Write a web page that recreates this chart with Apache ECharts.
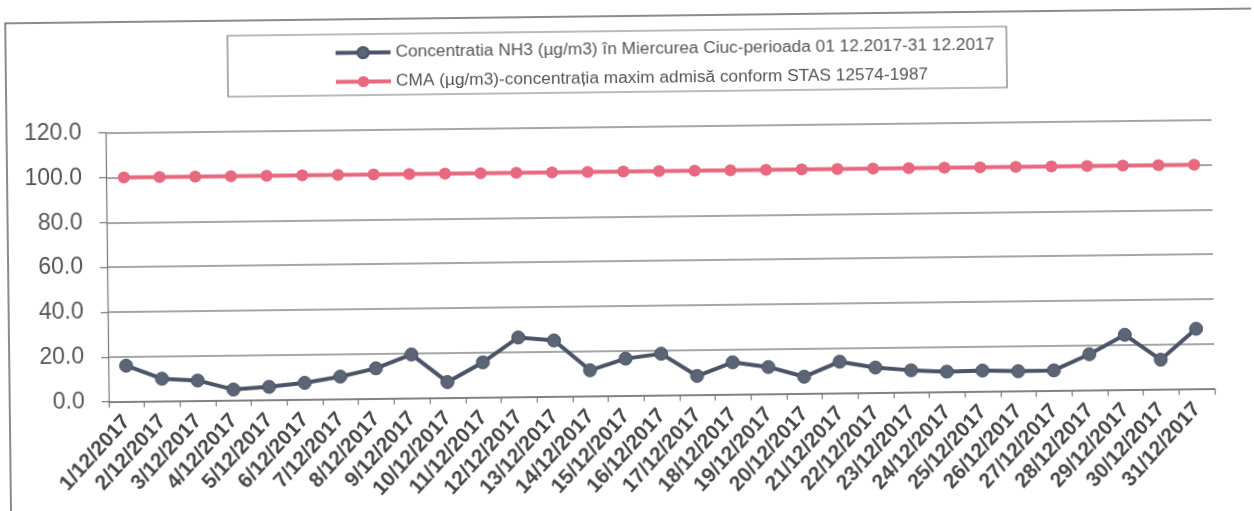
<!DOCTYPE html>
<html>
<head>
<meta charset="utf-8">
<script src="https://cdn.jsdelivr.net/npm/echarts@6/dist/echarts.min.js"></script>
<style>
html,body{margin:0;padding:0;background:#fff;overflow:hidden;}
#chart{width:1254px;height:511px;transform:rotate(-0.68deg);transform-origin:627px 255px;}
</style>
</head>
<body>
<div id="chart"></div>
<script>
const categories = ["1/12/2017","2/12/2017","3/12/2017","4/12/2017","5/12/2017","6/12/2017","7/12/2017","8/12/2017","9/12/2017","10/12/2017","11/12/2017","12/12/2017","13/12/2017","14/12/2017","15/12/2017","16/12/2017","17/12/2017","18/12/2017","19/12/2017","20/12/2017","21/12/2017","22/12/2017","23/12/2017","24/12/2017","25/12/2017","26/12/2017","27/12/2017","28/12/2017","29/12/2017","30/12/2017","31/12/2017"];
const nh3Values = [16.0,10.0,9.0,4.8,5.8,7.4,10.0,13.5,19.5,7.0,15.6,26.5,25.0,11.5,16.5,18.5,8.4,14.3,12.0,7.5,14.0,11.2,9.8,9.0,9.3,8.8,9.0,16.0,24.5,13.2,26.8];
const cmaValues = [100,100,100,100,100,100,100,100,100,100,100,100,100,100,100,100,100,100,100,100,100,100,100,100,100,100,100,100,100,100,100];
const nh3Name = "Concentratia NH3 (µg/m3) în Miercurea Ciuc-perioada 01 12.2017-31 12.2017";
const cmaName = "CMA (µg/m3)-concentrația maxim admisă conform STAS 12574-1987";
const yTicks = {min:0, max:120, interval:20};

const chart = echarts.init(document.getElementById('chart'), null, {renderer:'canvas'});
chart.setOption({
  backgroundColor:'#fff',
  animation:false,
  graphic:[
    {type:'rect', shape:{x:8,y:16,width:1270,height:496}, style:{fill:'none',stroke:'#666',lineWidth:1.5}, silent:true},
    {type:'rect', shape:{x:230,y:31,width:779,height:61}, style:{fill:'none',stroke:'#777',lineWidth:1.2}, silent:true}
  ],
  legend:{
    orient:'vertical', left:331, top:35,
    itemWidth:55, itemHeight:14, itemGap:10,
    lineStyle:{width:4},
    textStyle:{fontFamily:'Liberation Sans, Arial, sans-serif', fontSize:17.3, color:'#555', lineHeight:19},
    data:[nh3Name, cmaName]
  },
  grid:{left:107, right:41, top:126.6, bottom:115.4, containLabel:false},
  xAxis:{
    type:'category', data:categories, boundaryGap:true,
    axisLine:{lineStyle:{color:'#777', width:1.5}},
    axisTick:{show:true, length:6, inside:false, alignWithLabel:false, lineStyle:{color:'#777', width:1.2}},
    axisLabel:{interval:0, rotate:47, fontFamily:'Liberation Sans, Arial, sans-serif', fontSize:21, fontWeight:'bold', color:'#484848', margin:17}
  },
  yAxis:{
    type:'value', min:yTicks.min, max:yTicks.max, interval:yTicks.interval,
    axisLine:{show:true, lineStyle:{color:'#777', width:1.2}},
    axisTick:{show:true, length:7, lineStyle:{color:'#777', width:1.2}},
    splitLine:{lineStyle:{color:'#888', width:1.5}},
    axisLabel:{fontFamily:'Liberation Sans, Arial, sans-serif', fontSize:23, color:'#555', margin:24, formatter:v=>v.toFixed(1)}
  },
  series:[
    {name:nh3Name, type:'line', data:nh3Values, symbol:'circle', symbolSize:13,
     lineStyle:{color:'#4a5466', width:4}, itemStyle:{color:'#5b6576', borderColor:'#4a5466', borderWidth:1}},
    {name:cmaName, type:'line', data:cmaValues, symbol:'circle', symbolSize:12,
     lineStyle:{color:'#e8687f', width:4}, itemStyle:{color:'#e8687f'}}
  ]
});
</script>
</body>
</html>
